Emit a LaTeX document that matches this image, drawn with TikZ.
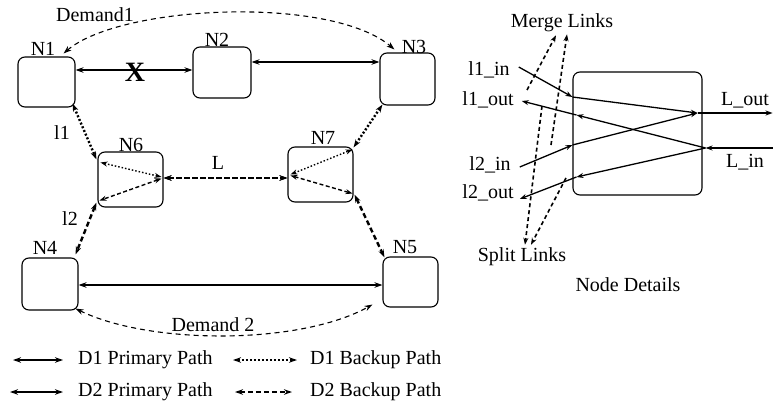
\documentclass[tikz,border=0pt]{standalone}
\usepackage{fontspec}
\setmainfont{Liberation Serif}
\usetikzlibrary{arrows.meta,calc}
\begin{document}
\begin{tikzpicture}[x=1pt,y=-1pt,
  font=\fontsize{20}{22}\selectfont,
  >={Stealth[length=8pt,width=5.5pt]},
  box/.style={draw, rounded corners=7pt, line width=1.1pt, inner sep=0pt},
  lbl/.style={inner sep=0pt},
  pri1/.style={<->, line width=1.2pt},
  pri2/.style={<->, line width=2.4pt},
  bk1/.style={<->, line width=2.4pt, dash pattern=on 2pt off 2pt},
  bk2/.style={<->, line width=2.4pt, dash pattern=on 5pt off 3pt},
  bk1s/.style={<->, line width=1.4pt, dash pattern=on 1.5pt off 2pt, >={Stealth[length=7pt,width=5pt]}},
  bk2s/.style={<->, line width=1.4pt, dash pattern=on 4pt off 2.5pt, >={Stealth[length=7pt,width=5pt]}},
  dem/.style={<->, line width=1.1pt, dash pattern=on 5pt off 4pt},
  nd/.style={->, line width=1.3pt, >={Stealth[length=7pt,width=5pt]}},
  ml/.style={->, line width=1.6pt, dash pattern=on 4pt off 3pt, >={Stealth[length=7pt,width=5pt]}}]
\useasboundingbox (0,0) rectangle (774,415);

% ---- network nodes ----
\node[box, minimum width=57pt, minimum height=50pt] (N1) at (46.5,82) {};
\node[box, minimum width=58pt, minimum height=51pt] (N2) at (222,72.5) {};
\node[box, minimum width=55pt, minimum height=52pt] (N3) at (407.5,79) {};
\node[box, minimum width=65pt, minimum height=55pt] (N6) at (130.5,179.5) {};
\node[box, minimum width=65pt, minimum height=55pt] (N7) at (320.5,174.5) {};
\node[box, minimum width=56pt, minimum height=52pt] (N4) at (50,284) {};
\node[box, minimum width=55pt, minimum height=50pt] (N5) at (410.5,282) {};

\node[lbl] (tN1) at (43,49) {N1};
\node[lbl] (tN2) at (217,40) {N2};
\node[lbl] (tN3) at (414,47) {N3};
\node[lbl] (tN6) at (131,145) {N6};
\node[lbl] (tN7) at (323,138) {N7};
\node[lbl] (tN4) at (45,248) {N4};
\node[lbl] (tN5) at (405,247) {N5};
\node[lbl] (tD1) at (95,15) {Demand1};
\node[lbl] (tD2) at (213,325) {Demand 2};
\node[lbl] (tl1) at (62,133) {l1};
\node[lbl] (tl2) at (70,219) {l2};
\node[lbl] (tL) at (218,163) {L};

% ---- links ----
\draw[pri1] ([yshift=12pt]N1.east) -- ([yshift=12pt]N1.east -| N2.west);
\node[lbl, font=\bfseries\fontsize{28}{30}\selectfont] (tX) at (135,72) {X};
\draw[pri1] ([yshift=10.5pt]N2.east) -- ([yshift=10.5pt]N2.east -| N3.west);
\draw[pri2] ([yshift=-1pt]N4.east) -- ([yshift=-1pt]N4.east -| N5.west);
\draw[bk2] ([yshift=1.5pt]N6.east) -- ([yshift=1.5pt]N6.east -| N7.west);
\draw[bk1] ([yshift=1.5pt]N6.east) -- ([yshift=1.5pt]N6.east -| N7.west);

\draw[bk1] ($(N1.south east)+(-3,-4)$) -- ($(N6.north west)+(-1,8)$);
\draw[bk2] ($(N6.south west)+(-1,-5)$) -- ($(N4.north east)+(-3,-3)$);
\draw[bk1] ($(N3.south west)+(3,-1)$) -- ($(N7.north east)+(0,1)$);
\draw[bk2] ($(N7.south east)+(1,-8)$) -- ($(N5.north west)+(2,1)$);

\draw[bk1s] ($(N6.north west)+(3,11)$) -- ($(N6.east)+(-2,-2.5)$);
\draw[bk2s] ($(N6.east)+(-2,-1)$) -- ($(N6.south west)+(2,-7)$);
\draw[bk1s] ($(N7.west)+(3,0)$) -- ($(N7.north east)+(-1,3)$);
\draw[bk2s] ($(N7.west)+(3,1)$) -- ($(N7.south east)+(-1,-9)$);

\draw[dem] ($(N1.north east)+(-12,-3)$) .. controls (120,5) and (330,-5) .. ($(N3.north west)+(15,-3)$);
\draw[dem] ($(N4.south east)+(-3,-2)$) .. controls (150,345) and (300,345) .. ($(N5.south west)+(-10,-3)$);

% ---- node details ----
\node[box, minimum width=129pt, minimum height=123pt] (ND) at (637.5,133.5) {};
\node[lbl] (l1in) at (489,70) {l1\_in};
\node[lbl] (l1out) at (488,100) {l1\_out};
\node[lbl] (l2in) at (490,165) {l2\_in};
\node[lbl] (l2out) at (488,193) {l2\_out};
\node[lbl] (Lout) at (745,100) {L\_out};
\node[lbl] (Lin) at (745,162) {L\_in};
\node[lbl] (merge) at (562,23) {Merge Links};
\node[lbl] (split) at (522,257) {Split Links};
\node[lbl] (det) at (628,285) {Node Details};

\coordinate (P1) at ($(ND.west)+(0,-36.5)$);
\coordinate (P2) at ($(ND.west)+(4,-18.5)$);
\coordinate (P3) at ($(ND.west)+(0,11.5)$);
\coordinate (P4) at ($(ND.west)+(4,43.5)$);
\coordinate (J1) at ($(ND.east)+(-5,-20.5)$);
\coordinate (J2) at ($(ND.east)+(3,14.5)$);
\coordinate (Lo) at ($(J1)+(75,0)$);
\coordinate (Li) at ($(J2)+(67,0)$);

\draw[nd] ($(l1in.east)+(9,-3)$) -- (P1);
\draw[nd] (P1) -- (J1);
\draw[nd] ($(l2in.east)+(9,2)$) -- (P3);
\draw[nd] (P3) -- (J1);
\draw[nd] (J1) -- (Lo);
\draw[nd] (Li) -- (J2);
\draw[nd] (J2) -- (P2);
\draw[nd] (P2) -- ($(l1out.east)+(8,1)$);
\draw[nd] (J2) -- (P4);
\draw[nd] (P4) -- ($(l2out.east)+(6,6)$);

\coordinate (m1) at (527,90);
\coordinate (m2) at (551,145);
\coordinate (s1) at (542,106);
\coordinate (s2) at (566,178);
\draw[ml] (m1) -- ($(merge.south)+(-6,3)$);
\draw[ml] (m2) -- ($(merge.south)+(5,2)$);
\draw[ml] (s1) -- ($(split.north)+(3,-3)$);
\draw[ml] (s2) -- ($(split.north)+(9,-3)$);

% ---- legend ----
\coordinate (a1) at (13,360); \coordinate (a1e) at (63,360);
\coordinate (a2) at (233,360); \coordinate (a2e) at (297,360);
\coordinate (a3) at (10,392); \coordinate (a3e) at (63,392);
\coordinate (a4) at (235,392); \coordinate (a4e) at (292,392);
\draw[pri1] (a1) -- (a1e);
\draw[bk1] (a2) -- (a2e);
\draw[pri2] (a3) -- (a3e);
\draw[bk2] (a4) -- (a4e);
\node[lbl, anchor=west] (g1) at (78,360) {D1 Primary Path};
\node[lbl, anchor=west] (g2) at (310,360) {D1 Backup Path};
\node[lbl, anchor=west] (g3) at (78,392) {D2 Primary Path};
\node[lbl, anchor=west] (g4) at (310,392) {D2 Backup Path};
\end{tikzpicture}
\end{document}
